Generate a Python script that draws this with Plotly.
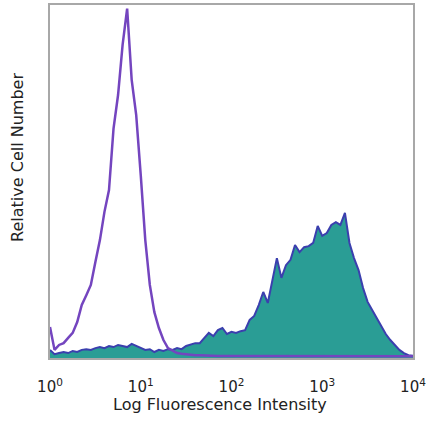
import plotly.graph_objects as go

# bin centres in log10 units (0.00 .. 4.00 step 0.05)
log_bins = [round(i * 0.05, 2) for i in range(81)]

# isotype control (purple outline), relative counts
control_counts = [
    8.8, 2.3, 3.7, 4.2, 5.7, 7.1, 10.2, 15.0, 17.8, 20.7,
    27.2, 33.4, 41.4, 47.6, 65.0, 74.5, 88.7, 99.0, 78.8, 68.8,
    51.8, 33.4, 20.7, 13.0, 8.5, 5.1, 2.8, 2.0, 1.4, 1.2,
    1.0, 0.9, 0.8, 0.8, 0.7, 0.7, 0.6, 0.6, 0.6, 0.6,
    0.5, 0.5, 0.5, 0.5, 0.5, 0.5, 0.5, 0.5, 0.5, 0.5,
    0.5, 0.5, 0.5, 0.5, 0.5, 0.5, 0.5, 0.5, 0.5, 0.5,
    0.5, 0.5, 0.5, 0.5, 0.5, 0.5, 0.5, 0.5, 0.5, 0.5,
    0.5, 0.5, 0.5, 0.5, 0.5, 0.5, 0.5, 0.5, 0.5, 0.5,
    0.5,
]

# stained sample (teal fill, blue outline), relative counts
stained_counts = [
    2.3, 1.1, 1.4, 1.7, 1.4, 2.0, 1.7, 2.3, 2.5, 2.3,
    2.8, 3.1, 2.8, 3.4, 3.1, 3.7, 3.4, 3.1, 4.0, 3.4,
    2.8, 2.3, 2.5, 1.7, 2.3, 2.0, 2.5, 2.3, 2.8, 2.5,
    3.4, 3.7, 4.2, 4.2, 5.7, 7.1, 6.2, 7.9, 8.5, 6.8,
    7.4, 7.1, 7.6, 7.9, 10.8, 11.9, 15.0, 18.7, 15.6, 22.1,
    28.3, 22.7, 26.3, 27.8, 32.0, 30.0, 31.4, 31.7, 32.6, 37.4,
    34.6, 35.4, 37.7, 38.5, 37.7, 41.1, 32.6, 28.3, 24.9, 19.8,
    15.9, 13.6, 11.3, 9.1, 6.8, 5.1, 3.7, 2.3, 1.4, 0.8,
    0.6,
]

tick_vals = [1, 10, 100, 1000, 10000]
tick_text = ["10<sup>0</sup>", "10<sup>1</sup>", "10<sup>2</sup>",
             "10<sup>3</sup>", "10<sup>4</sup>"]

x_vals = [10 ** v for v in log_bins]

fig = go.Figure()
fig.add_trace(go.Scatter(
    x=x_vals, y=stained_counts, mode="lines",
    line=dict(color="#3b3fae", width=2),
    fill="tozeroy", fillcolor="#2a9d95",
    hoverinfo="skip", showlegend=False,
))
fig.add_trace(go.Scatter(
    x=x_vals, y=control_counts, mode="lines",
    line=dict(color="#7445bf", width=2.5),
    hoverinfo="skip", showlegend=False,
))

font_family = "DejaVu Sans"
fig.update_layout(
    width=436, height=434,
    margin=dict(l=50, r=23, t=5, b=76, autoexpand=False),
    paper_bgcolor="white", plot_bgcolor="white",
    font=dict(family=font_family, color="#222222"),
    xaxis=dict(
        type="log", range=[0, 4],
        tickvals=tick_vals, ticktext=tick_text,
        tickfont=dict(size=15, color="#222222"),
        ticks="outside", ticklen=14, tickcolor="rgba(0,0,0,0)",
        showgrid=False, zeroline=False,
        showline=True, linecolor="#a8a8a8", linewidth=2, mirror=True,
        automargin=False,
    ),
    yaxis=dict(
        range=[0, 100],
        showticklabels=False, ticks="",
        showgrid=False, zeroline=False,
        showline=True, linecolor="#a8a8a8", linewidth=2, mirror=True,
    ),
    annotations=[
        dict(
            text="Relative Cell Number", textangle=-90,
            xref="paper", yref="paper", x=-0.088, y=0.567,
            xanchor="center", yanchor="middle", showarrow=False,
            font=dict(size=16, color="#222222"),
        ),
        dict(
            text="Log Fluorescence Intensity",
            xref="paper", yref="paper", x=(220 - 50) / 363, y=-46 / 353,
            xanchor="center", yanchor="middle", showarrow=False,
            font=dict(size=16, color="#222222"),
        ),
    ],
)

fig.write_html("out.html",
               config={"displayModeBar": False},
               post_script="document.body.style.margin='0';")
